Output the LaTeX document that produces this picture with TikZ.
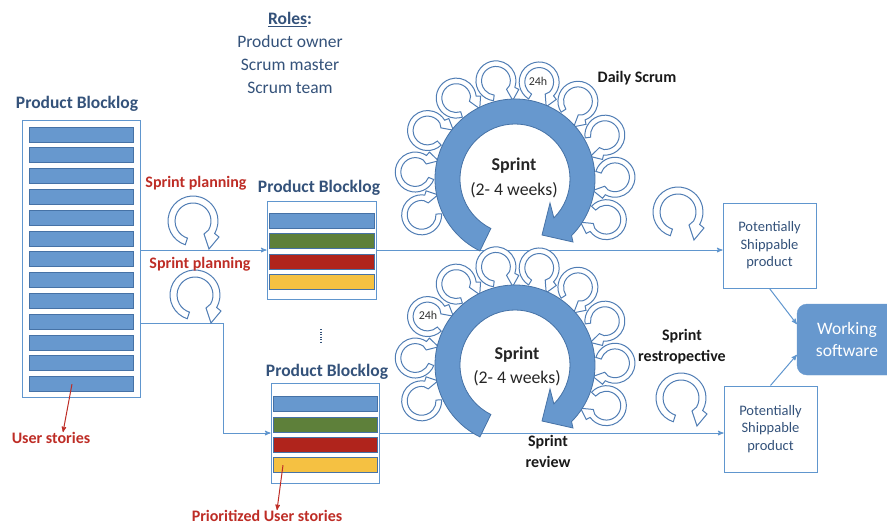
\documentclass[tikz,border=0pt]{standalone}
\usepackage{fontspec}
\setmainfont{Carlito}
\usetikzlibrary{calc}
\usetikzlibrary{arrows}

\definecolor{barblue}{RGB}{103,152,206}
\definecolor{baredge}{RGB}{70,114,166}
\definecolor{bargreen}{RGB}{94,128,58}
\definecolor{barred}{RGB}{176,36,28}
\definecolor{baryellow}{RGB}{245,193,66}
\definecolor{flowblue}{RGB}{96,150,206}
\definecolor{titleblue}{RGB}{52,82,122}
\definecolor{storyred}{RGB}{190,45,38}
\definecolor{loopblue}{RGB}{80,125,180}

\tikzset{
  horseshoe/.pic={
    \begin{scope}[yscale=-1]
    \draw[loopblue, line width=1pt, fill=white] (252:25) arc[start angle=252, end angle=-30, radius=25]
      -- (26,-16) -- (16,-28) -- (11,-13) -- (-30:18) arc[start angle=-30, end angle=252, radius=18] -- cycle;
    \end{scope}
  },
  sprintarc/.pic={
    \begin{scope}[yscale=-1]
    \draw[baredge, line width=0.8pt, fill=barblue] (244:80) arc[start angle=244, end angle=-45, radius=80]
      -- (58,-63) -- (27,-56) -- (35,-24) -- (-45:55) arc[start angle=-45, end angle=244, radius=55] -- cycle;
    \end{scope}
  }
}

\begin{document}
\begin{tikzpicture}[x=1pt, y=-1pt,
  bar/.style={draw=baredge, line width=0.8pt, inner sep=0pt, minimum height=15pt},
  backlog/.style={draw=flowblue, line width=1pt, inner sep=0pt},
  title/.style={inner sep=0pt, text=titleblue, font=\fontsize{17.5}{20}\selectfont\bfseries},
  redlbl/.style={inner sep=0pt, text=storyred, font=\fontsize{16}{18}\selectfont\bfseries},
  blacklbl/.style={inner sep=0pt, text=black!90, align=center, font=\fontsize{16}{21}\selectfont\bfseries},
  flow/.style={flowblue, line width=1pt, ->, >=stealth'},
  redarrow/.style={storyred, line width=1pt, ->, >=stealth'},
  shipbox/.style={draw=flowblue, line width=1pt, minimum width=93pt, minimum height=85pt, align=center, text=titleblue, font=\fontsize{14.5}{17.5}\selectfont}]
\useasboundingbox (0,0) rectangle (887,525);

% roles
\node[inner sep=0pt, align=center, text=titleblue, font=\fontsize{17.5}{23}\selectfont] (roles) at (290,53)
  {\textbf{\underline{Roles}:}\\Product owner\\Scrum master\\Scrum team};

% product backlog with all user stories
\node[title] (t0) at (77,104) {Product Blocklog};
\node[backlog, minimum width=118pt, minimum height=277pt] (pbl) at (81,258.5) {};
\foreach \i in {1,...,13} {
 \node[bar, fill=barblue, minimum width=104pt] (l\i) at (81,{134.5+20.8*(\i-1)}) {};
}

% sprint backlogs
\node[title] (t1) at (319,188) {Product Blocklog};
\node[backlog, minimum width=109pt, minimum height=98pt] (pb1) at (321.5,250) {};
\foreach \c [count=\i] in {barblue,bargreen,barred,baryellow} {
 \node[bar, fill=\c, minimum width=105pt] (a\i) at (321.5,{200+20.5*\i}) {};
}
\node[title] (t2) at (327,372) {Product Blocklog};
\node[backlog, minimum width=108pt, minimum height=100pt] (pb2) at (325,433) {};
\foreach \c [count=\i] in {barblue,bargreen,barred,baryellow} {
 \node[bar, fill=\c, minimum width=104pt] (b\i) at (325,{384+20.3*\i}) {};
}
\draw[titleblue, line width=1.3pt, dash pattern=on 1.2pt off 1.3pt] (321,329) -- (321,342);

% outputs
\node[shipbox] (ps1) at (769.5,245.5) {Potentially\\Shippable\\product};
\node[shipbox, minimum height=86pt] (ps2) at (770.5,429) {Potentially\\Shippable\\product};
\node[fill=barblue, draw=barblue, rounded corners=10pt, minimum width=100pt, minimum height=71pt,
  text=white, align=center, font=\fontsize{17.5}{22}\selectfont] (ws) at (847,339.5) {Working\\software};

% flow
\coordinate (split) at (223,323);
\draw[flow] (pbl.east |- pb1.west) -- (pb1.west);
\draw[flow] (pbl.east |- split) -- (split) |- (pb2.west);
\draw[flow] (pb1.east) -- (pb1.east -| ps1.west);
\draw[flow] (pb2.east) -- (pb2.east -| ps2.west);
\draw[flow] (ps1.south) -- (ws.163);
\draw[flow] (ps2.north) -- (ws.197);

% sprints with daily scrums
\coordinate (c1) at (515,179);
\coordinate (c2) at (515,365);
\foreach \a in {201,176,151,126,101,76,51,26,1,336} {
 \pic[rotate=\a-90, scale=0.8] at ($(c1)+(-\a:100)$) {horseshoe};
 \pic[rotate=\a-90, scale=0.8] at ($(c2)+(-\a:100)$) {horseshoe};
}
\pic at (c1) {sprintarc};
\pic at (c2) {sprintarc};
\pic at (193,221) {horseshoe};
\pic at (195,295) {horseshoe};
\pic at (678,212) {horseshoe};
\pic at (681,398) {horseshoe};

\node[inner sep=0pt, font=\fontsize{12}{14}\selectfont, text=black!80] (h1) at (538,81) {24h};
\node[inner sep=0pt, font=\fontsize{12}{14}\selectfont, text=black!80] (h2) at (428,315) {24h};
\node[inner sep=0pt, font=\fontsize{18}{20}\selectfont\bfseries, text=black!85] (s1) at (514,166) {Sprint};
\node[inner sep=0pt, font=\fontsize{17.8}{20}\selectfont, text=black!85] (w1) at (514,190) {(2- 4 weeks)};
\node[inner sep=0pt, font=\fontsize{18}{20}\selectfont\bfseries, text=black!85] (s2) at (517,355) {Sprint};
\node[inner sep=0pt, font=\fontsize{17.8}{20}\selectfont, text=black!85] (w2) at (517,378) {(2- 4 weeks)};

% events
\node[redlbl] (plan1) at (196,183) {Sprint planning};
\node[redlbl] (plan2) at (200,264) {Sprint planning};
\node[blacklbl] (daily) at (637,78) {Daily Scrum};
\node[blacklbl] (retro) at (682,346.5) {Sprint\\restropective};
\node[blacklbl] (review) at (548,451.5) {Sprint\\review};

% stories
\node[redlbl] (us) at (51,438) {User stories};
\node[redlbl] (pus) at (267,516) {Prioritized User stories};
\draw[redarrow] ([xshift=-9pt]l13.center) -- ([xshift=12pt]us.north);
\draw[redarrow] ([xshift=-42pt]b4.center) -- ([xshift=10pt]pus.north);
\end{tikzpicture}
\end{document}
